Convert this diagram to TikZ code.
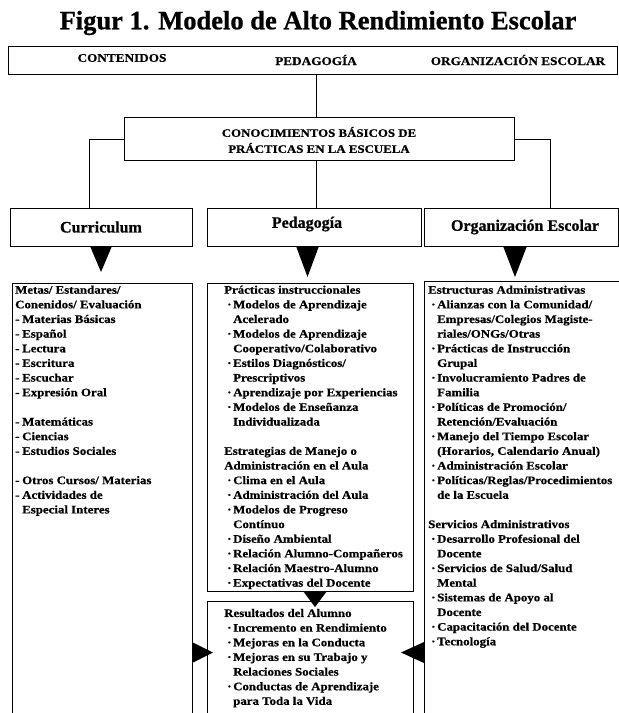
\documentclass[tikz,border=0pt]{standalone}
\usepackage{fontspec}
\setmainfont{Liberation Serif}
\newfontfamily\widefont[FakeStretch=1.12,FakeBold=0.7]{Liberation Serif}
\newfontfamily\heavyfont[FakeBold=0.8]{Liberation Serif}
\newcommand\bulx{\hspace*{3pt}\makebox[6pt][l]{·}}
\newcommand\contx{\hspace*{9pt}}
\newcommand\dashx{\makebox[7pt][l]{-}}
\newcommand\dcontx{\hspace*{7pt}}
\tikzset{
  box/.style={draw=black, line width=1.2pt, fill=white, inner sep=0pt, anchor=north west},
  conn/.style={draw=black, line width=1.2pt},
  tri/.style={fill=black},
  body/.style={anchor=north west, inner sep=0pt, align=left,
    font=\widefont\bfseries\fontsize{11.5}{14.65}\selectfont},
  capt/.style={inner sep=0pt, font=\widefont\bfseries\fontsize{11.8}{14}\selectfont},
  midt/.style={inner sep=0pt, align=center, font=\widefont\bfseries\fontsize{11.5}{16}\selectfont},
  head/.style={inner sep=0pt, font=\heavyfont\bfseries\fontsize{16}{19}\selectfont},
  ttl/.style={inner sep=0pt, font=\heavyfont\bfseries\fontsize{26.5}{30}\selectfont}
}
\begin{document}
\begin{tikzpicture}[x=1pt,y=-1pt]
\useasboundingbox (0,0) rectangle (619,713);
\clip (0,0) rectangle (619,713);
\fill[white] (0,0) rectangle (619,713);

% title
\node[ttl] (title) at (318,23) {Figur 1. Modelo de Alto Rendimiento Escolar};

% top box
\node[box, minimum width=609pt, minimum height=28pt] (top) at (8,46) {};
\node[capt] (tc) at (122,58) {CONTENIDOS};
\node[capt] (tp) at (316,60) {PEDAGOGÍA};
\node[capt] (to) at (518,60) {ORGANIZACIÓN ESCOLAR};

% middle box
\node[box, minimum width=390pt, minimum height=43pt] (mid) at (124,117) {};
\node[midt] (midtext) at (319,140) {CONOCIMIENTOS BÁSICOS DE\\PRÁCTICAS EN LA ESCUELA};

% header boxes
\node[box, minimum width=182pt, minimum height=38pt] (cur) at (10,208) {};
\node[box, minimum width=214pt, minimum height=38pt] (ped) at (207,208) {};
\node[box, minimum width=194pt, minimum height=38pt] (org) at (424,208) {};
\node[head] (curt) at (101,227) {Curriculum};
\node[head] (pedt) at (307,224) {Pedagogía};
\node[head] (orgt) at (525,227) {Organización Escolar};

% connectors
\draw[conn] ([xshift=-3pt]mid.north) -- ([xshift=-3pt]mid.north |- top.south);
\draw[conn] (mid.west) -| ([xshift=-12pt]cur.north);
\draw[conn] (mid.east) -| ([xshift=29pt]org.north);
\draw[conn] ([xshift=-3pt]mid.south) -- ([xshift=-3pt]mid.south |- ped.north);

% down triangles
\fill[tri] (90,246) -- (112,246) -- (101,272) -- cycle;
\fill[tri] (296,246) -- (319,246) -- (307.5,277) -- cycle;
\fill[tri] (503,246) -- (527,246) -- (515,277) -- cycle;

% content boxes
\node[box, minimum width=180pt, minimum height=450pt] (lbox) at (12,283) {};
\node[box, minimum width=206pt, minimum height=308pt] (mbox) at (207,283) {};
\node[box, minimum width=206pt, minimum height=150pt] (rbox2) at (207,601) {};
\node[box, minimum width=220pt, minimum height=450pt] (rbox) at (424,281) {};

% small triangles
\fill[tri] (303,591) -- (327,591) -- (315,607) -- cycle;
\fill[tri] (192,642) -- (192,663) -- (213,652.5) -- cycle;
\fill[tri] (424,642) -- (424,663) -- (401,652.5) -- cycle;

% left text
\node[body] (ltext) at (15,283.2) {\strut Metas/ Estandares/\\
Conenidos/ Evaluación\\
\dashx Materias Básicas\\
\dashx Español\\
\dashx Lectura\\
\dashx Escritura\\
\dashx Escuchar\\
\dashx Expresión Oral\\[14.65pt]
\dashx Matemáticas\\
\dashx Ciencias\\
\dashx Estudios Sociales\\[14.65pt]
\dashx Otros Cursos/ Materias\\
\dashx Actividades de\\
\dcontx Especial Interes};

% middle text
\node[body] (mtext) at (224,283.2) {\strut Prácticas instruccionales\\
\bulx Modelos de Aprendizaje\\
\contx Acelerado\\
\bulx Modelos de Aprendizaje\\
\contx Cooperativo/Colaborativo\\
\bulx Estilos Diagnósticos/\\
\contx Prescriptivos\\
\bulx Aprendizaje por Experiencias\\
\bulx Modelos de Enseñanza\\
\contx Individualizada\\[14.65pt]
Estrategias de Manejo o\\
Administración en el Aula\\
\bulx Clima en el Aula\\
\bulx Administración del Aula\\
\bulx Modelos de Progreso\\
\contx Contínuo\\
\bulx Diseño Ambiental\\
\bulx Relación Alumno-Compañeros\\
\bulx Relación Maestro-Alumno\\
\bulx Expectativas del Docente};

% results text
\node[body] (restext) at (224,606.5) {\strut Resultados del Alumno\\
\bulx Incremento en Rendimiento\\
\bulx Mejoras en la Conducta\\
\bulx Mejoras en su Trabajo y\\
\contx Relaciones Sociales\\
\bulx Conductas de Aprendizaje\\
\contx para Toda la Vida};

% right text
\node[body] (rtext) at (428,283.2) {\strut Estructuras Administrativas\\
\bulx Alianzas con la Comunidad/\\
\contx Empresas/Colegios Magiste-\\
\contx riales/ONGs/Otras\\
\bulx Prácticas de Instrucción\\
\contx Grupal\\
\bulx Involucramiento Padres de\\
\contx Familia\\
\bulx Políticas de Promoción/\\
\contx Retención/Evaluación\\
\bulx Manejo del Tiempo Escolar\\
\contx (Horarios, Calendario Anual)\\
\bulx Administración Escolar\\
\bulx Políticas/Reglas/Procedimientos\\
\contx de la Escuela\\[14.65pt]
Servicios Administrativos\\
\bulx Desarrollo Profesional del\\
\contx Docente\\
\bulx Servicios de Salud/Salud\\
\contx Mental\\
\bulx Sistemas de Apoyo al\\
\contx Docente\\
\bulx Capacitación del Docente\\
\bulx Tecnología};
\end{tikzpicture}
\end{document}
